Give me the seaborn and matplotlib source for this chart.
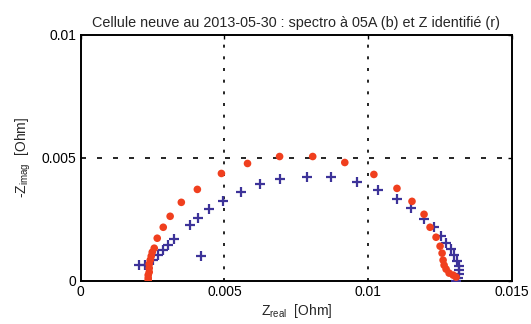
import matplotlib
matplotlib.use("Agg")
import matplotlib.pyplot as plt
import seaborn as sns
import pandas as pd
from matplotlib.ticker import FixedLocator, FuncFormatter

# identified impedance (red)
red_re = [0.002348, 0.002348, 0.002348, 0.002383, 0.002383, 0.002383, 0.002418, 0.002453,
          0.002488, 0.002558, 0.002662, 0.002871, 0.003111, 0.003500, 0.004058, 0.004895,
          0.005803, 0.006919, 0.008071, 0.009187, 0.010199, 0.011002, 0.011525, 0.011944,
          0.012153, 0.012362, 0.012502, 0.012572, 0.012607, 0.012642, 0.012711, 0.012816,
          0.012955, 0.013060]
red_im = [0.000000, 0.000101, 0.000223, 0.000345, 0.000507, 0.000670, 0.000832, 0.000994,
          0.001156, 0.001319, 0.001725, 0.002171, 0.002618, 0.003186, 0.003713, 0.004362,
          0.004768, 0.005052, 0.005052, 0.004808, 0.004322, 0.003754, 0.003226, 0.002699,
          0.002171, 0.001765, 0.001400, 0.001116, 0.000832, 0.000629, 0.000467, 0.000304,
          0.000223, 0.000142]

# measured spectrum (blue)
blue_re = [0.004196, 0.002034, 0.002244, 0.002523, 0.002697, 0.002871, 0.003046, 0.003255,
           0.003813, 0.004092, 0.004476, 0.004965, 0.005593, 0.006221, 0.006919, 0.007861,
           0.008698, 0.009605, 0.010338, 0.011002, 0.011490, 0.011944, 0.012293, 0.012537,
           0.012711, 0.012886, 0.012990, 0.013095, 0.013165, 0.013165, 0.013165, 0.013130,
           0.013060]
blue_im = [0.000994, 0.000629, 0.000629, 0.000832, 0.001035, 0.001238, 0.001441, 0.001684,
           0.002252, 0.002536, 0.002901, 0.003226, 0.003591, 0.003916, 0.004119, 0.004200,
           0.004200, 0.003997, 0.003673, 0.003307, 0.002942, 0.002496, 0.002171, 0.001806,
           0.001522, 0.001278, 0.001035, 0.000791, 0.000588, 0.000426, 0.000264, 0.000101,
           0.000000]

x_ticks = [0, 0.005, 0.01, 0.015]
y_ticks = [0, 0.005, 0.01]
x_guides = [0.005, 0.01]
y_guides = [0.005]

sns.set_style("white")
plt.rcParams['font.family'] = ['Liberation Sans', 'DejaVu Sans']
plt.rcParams['mathtext.default'] = 'regular'

fig = plt.figure(figsize=(5.31, 3.24), dpi=100)
ax = fig.add_axes([0.152, 0.134, 0.812, 0.758])

df_b = pd.DataFrame({"re": blue_re, "im": blue_im})
df_r = pd.DataFrame({"re": red_re, "im": red_im})

for xv in x_guides:
    ax.axvline(xv, color='black', linewidth=1.2, linestyle=(0, (1.8, 5.2)), zorder=1)
for yv in y_guides:
    ax.axhline(yv, color='black', linewidth=1.2, linestyle=(0, (3.0, 6.6)), zorder=1)

sns.scatterplot(data=df_b, x="re", y="im", ax=ax, marker='+', s=60,
                color='#3D3399', linewidth=1.6, zorder=3)
sns.scatterplot(data=df_r, x="re", y="im", ax=ax, marker='o', s=30,
                color='#F03F1E', edgecolor='none', zorder=4)

ax.set_xlim(0, 0.015)
ax.set_ylim(0, 0.01)
ax.xaxis.set_major_locator(FixedLocator(x_ticks))
ax.yaxis.set_major_locator(FixedLocator(y_ticks))
fmt = FuncFormatter(lambda v, p: "%g" % v)
ax.xaxis.set_major_formatter(fmt)
ax.yaxis.set_major_formatter(fmt)
ax.tick_params(direction='in', length=3, width=1, labelsize=10, colors='black',
               top=True, right=True, pad=3)

for sp in ax.spines.values():
    sp.set_visible(True)
    sp.set_color('black')
    sp.set_linewidth(1.4)

ax.set_xlabel(r'Z$_{real}$  [Ohm]', fontsize=10, labelpad=2)
ax.set_ylabel(r'-Z$_{imag}$  [Ohm]', fontsize=10, labelpad=6)
ax.set_title("Cellule neuve au 2013-05-30 : spectro à 05A (b) et Z identifié (r)",
             fontsize=10.4, pad=6)

fig.savefig("out.png", dpi=100, facecolor='white')
